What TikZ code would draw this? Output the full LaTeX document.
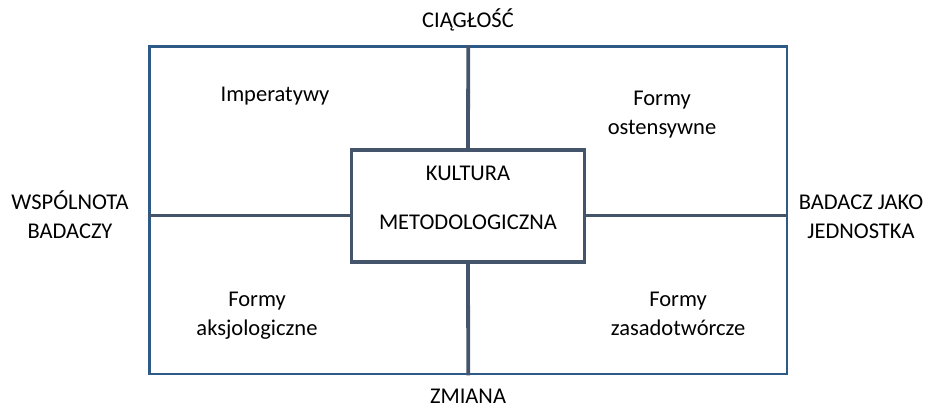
\documentclass[tikz,border=0pt]{standalone}
\usepackage{fontspec}
\setmainfont{Carlito}
\definecolor{outerblue}{HTML}{2E5A87}
\definecolor{slate}{HTML}{44546A}
\begin{document}
\begin{tikzpicture}[x=1pt,y=-1pt,
  lbl/.style={font=\fontsize{22.5}{28.5}\selectfont, align=center, anchor=base, inner sep=0pt, text=black},
  frame/.style={draw=outerblue, line width=2.8pt, inner sep=0pt},
  core/.style={draw=slate, line width=3.8pt, inner sep=0pt},
  divider/.style={draw=slate, line width=3.8pt}]
\useasboundingbox (0,0) rectangle (934,410);
\node[frame, minimum width=637.5pt, minimum height=327.5pt] (outer) at (468.25,210.25) {};
\node[core, minimum width=233pt, minimum height=112pt] (core) at (468,206) {};
\coordinate (hy) at (0,215.5);
\draw[divider] (outer.north) -- (core.north);
\draw[divider] (core.south) -- (outer.south);
\draw[divider] (outer.west |- hy) -- (core.west |- hy);
\draw[divider] (core.east |- hy) -- (outer.east |- hy);
\node[lbl] (top) at (468,27) {CIĄGŁOŚĆ};
\node[lbl] (bottom) at (468,403) {ZMIANA};
\node[lbl] (left) at (70,238) {WSPÓLNOTA\\BADACZY};
\node[lbl] (right) at (861,238) {BADACZ JAKO\\JEDNOSTKA};
\node[lbl] (q1) at (275,101) {Imperatywy};
\node[lbl] (q2) at (662,134) {Formy\\ostensywne};
\node[lbl] (q3) at (257,335) {Formy\\aksjologiczne};
\node[lbl] (q4) at (678,335) {Formy\\zasadotwórcze};
\node[lbl] (centre) at (468,229) {KULTURA\\[20.5pt]METODOLOGICZNA};
\end{tikzpicture}
\end{document}
